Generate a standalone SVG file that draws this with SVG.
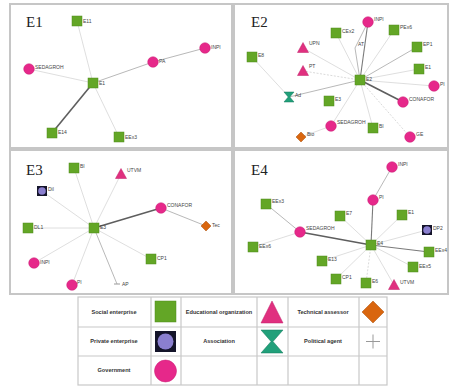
<svg xmlns="http://www.w3.org/2000/svg" xmlns:xlink="http://www.w3.org/1999/xlink" width="451" height="387" viewBox="0 0 451 387">
  <style>
    .panel { fill: #ffffff; stroke: #c6c6c6; stroke-width: 2; }
    .title { font-family: "Liberation Serif", "DejaVu Serif", serif; font-size: 15px; fill: #222; }
    .lbl { font-family: "Liberation Sans", Arial, sans-serif; font-size: 5px; fill: #444; }
    .se { fill: #63a626; stroke: #4f8a1c; stroke-width: 0.5; }
    .gov { fill: #e6288a; stroke: #c81c74; stroke-width: 0.5; }
    .edu { fill: #e0307f; stroke: #c01f68; stroke-width: 0.5; }
    .tec { fill: #d9660f; stroke: #a84e0a; stroke-width: 0.5; }
    .asn { fill: #21a07a; stroke: #157a5c; stroke-width: 0.5; }
    .pe-box { fill: #14142a; }
    .pe { fill: #8a7fcf; }
    .pol { stroke: #999; stroke-width: 1; fill: none; }
    .e-l { stroke: #d6d6d6; stroke-width: 0.8; fill: none; }
    .e-m { stroke: #b0b0b0; stroke-width: 0.9; fill: none; }
    .e-d { stroke: #7a7a7a; stroke-width: 1.1; fill: none; }
    .e-x { stroke: #5e5e5e; stroke-width: 1.6; fill: none; }
    .e-dash { stroke: #d0d0d0; stroke-width: 0.8; stroke-dasharray: 2 1.5; fill: none; }
    .grid { fill: #ffffff; stroke: #c8c8c8; stroke-width: 1.2; }
    .leg { font-family: "Liberation Sans", Arial, sans-serif; font-size: 5.6px; font-weight: bold; fill: #333; text-anchor: middle; }
  </style>
  <defs>
    <rect id="sq" x="-5" y="-5" width="10" height="10" class="se"/>
    <circle id="ci" r="5.3" class="gov"/>
    <polygon id="tri" points="0,-5.5 5.5,4.5 -5.5,4.5" class="edu"/>
    <polygon id="dia" points="0,-5 5,0 0,5 -5,0" class="tec"/>
    <polygon id="hg" points="-5,-5 5,-5 0.8,0 5,5 -5,5 -0.8,0" class="asn"/>
    <g id="pe">
      <rect x="-5" y="-5" width="10" height="10" class="pe-box"/>
      <circle r="3.8" class="pe"/>
    </g>
  </defs>

  <!-- frames -->
  <rect class="panel" x="10" y="4" width="222" height="144"/>
  <rect class="panel" x="234" y="4" width="214" height="144"/>
  <rect class="panel" x="10" y="150" width="222" height="144"/>
  <rect class="panel" x="234" y="150" width="214" height="144"/>

  <text class="title" x="26" y="27">E1</text>
  <text class="title" x="251" y="27">E2</text>
  <text class="title" x="26" y="175">E3</text>
  <text class="title" x="251" y="175">E4</text>

  <!-- connectors -->
  <g id="connectors">
    <!-- E1 -->
    <line class="e-l" x1="93" y1="83" x2="77" y2="21"/>
    <line class="e-l" x1="93" y1="83" x2="29" y2="69"/>
    <line class="e-m" x1="93" y1="83" x2="153" y2="62"/>
    <line class="e-m" x1="153" y1="62" x2="205" y2="48"/>
    <line class="e-x" x1="93" y1="83" x2="52" y2="133"/>
    <line class="e-l" x1="93" y1="83" x2="119" y2="137"/>
    <!-- E2 -->
    <line class="e-d" x1="360" y1="80" x2="368" y2="22"/>
    <polyline class="e-m" points="360,80 355,48 368,22"/>
    <line class="e-l" x1="360" y1="80" x2="336" y2="33"/>
    <line class="e-l" x1="360" y1="80" x2="394" y2="30"/>
    <line class="e-m" x1="360" y1="80" x2="417" y2="47"/>
    <line class="e-l" x1="360" y1="80" x2="303" y2="48"/>
    <line class="e-dash" x1="360" y1="80" x2="303" y2="71"/>
    <line class="e-l" x1="360" y1="80" x2="419" y2="69"/>
    <line class="e-l" x1="360" y1="80" x2="434" y2="86"/>
    <line class="e-x" x1="360" y1="80" x2="403" y2="102"/>
    <line class="e-m" x1="360" y1="80" x2="289" y2="97"/>
    <line class="e-l" x1="252" y1="57" x2="289" y2="97"/>
    <line class="e-l" x1="360" y1="80" x2="331" y2="126"/>
    <line class="e-l" x1="331" y1="126" x2="301" y2="137"/>
    <line class="e-l" x1="360" y1="80" x2="373" y2="128"/>
    <line class="e-dash" x1="360" y1="80" x2="410" y2="137"/>
    <!-- E3 -->
    <line class="e-l" x1="94" y1="228" x2="74" y2="168"/>
    <line class="e-l" x1="94" y1="228" x2="121" y2="174"/>
    <line class="e-l" x1="94" y1="228" x2="42" y2="191"/>
    <line class="e-x" x1="94" y1="228" x2="161" y2="208"/>
    <line class="e-m" x1="161" y1="208" x2="206" y2="226"/>
    <line class="e-l" x1="94" y1="228" x2="28" y2="228"/>
    <line class="e-l" x1="94" y1="228" x2="151" y2="259"/>
    <line class="e-l" x1="94" y1="228" x2="34" y2="263"/>
    <line class="e-l" x1="94" y1="228" x2="72" y2="285"/>
    <line class="e-m" x1="94" y1="228" x2="117" y2="284"/>
    <!-- E4 -->
    <line class="e-d" x1="371" y1="245" x2="373" y2="200"/>
    <line class="e-m" x1="373" y1="200" x2="392" y2="167"/>
    <line class="e-x" x1="371" y1="245" x2="300" y2="232"/>
    <line class="e-m" x1="300" y1="232" x2="266" y2="204"/>
    <line class="e-l" x1="300" y1="232" x2="253" y2="247"/>
    <line class="e-l" x1="371" y1="245" x2="340" y2="216"/>
    <line class="e-l" x1="371" y1="245" x2="402" y2="215"/>
    <line class="e-l" x1="371" y1="245" x2="427" y2="230"/>
    <line class="e-d" x1="371" y1="245" x2="429" y2="252"/>
    <line class="e-l" x1="371" y1="245" x2="322" y2="261"/>
    <line class="e-l" x1="371" y1="245" x2="413" y2="267"/>
    <line class="e-l" x1="371" y1="245" x2="336" y2="279"/>
    <line class="e-dash" x1="371" y1="245" x2="366" y2="283"/>
    <line class="e-l" x1="371" y1="245" x2="394" y2="285"/>
  </g>

  <!-- E1 nodes -->
  <g id="e1-E11"><use href="#sq" x="77" y="21"/><text class="lbl" x="83" y="23">E11</text></g>
  <g id="e1-INPI"><use href="#ci" x="205" y="48"/><text class="lbl" x="211" y="49">INPI</text></g>
  <g id="e1-PA"><use href="#ci" x="153" y="62"/><text class="lbl" x="159" y="63">PA</text></g>
  <g id="e1-SEDAGROH"><use href="#ci" x="29" y="69"/><text class="lbl" x="35" y="69">SEDAGROH</text></g>
  <g id="e1-E1"><use href="#sq" x="93" y="83"/><text class="lbl" x="99" y="85">E1</text></g>
  <g id="e1-E14"><use href="#sq" x="52" y="133"/><text class="lbl" x="58" y="134">E14</text></g>
  <g id="e1-EEx3"><use href="#sq" x="119" y="137"/><text class="lbl" x="125" y="139">EEx3</text></g>

  <!-- E2 nodes -->
  <g id="e2-INPI"><use href="#ci" x="368" y="22"/><text class="lbl" x="374" y="21">INPI</text></g>
  <g id="e2-AT"><text class="lbl" x="358" y="46">AT</text></g>
  <g id="e2-CEx2"><use href="#sq" x="336" y="33"/><text class="lbl" x="342" y="33">CEx2</text></g>
  <g id="e2-PEx6"><use href="#sq" x="394" y="30"/><text class="lbl" x="400" y="29">PEx6</text></g>
  <g id="e2-EP1"><use href="#sq" x="417" y="47"/><text class="lbl" x="423" y="46">EP1</text></g>
  <g id="e2-UPN"><use href="#tri" x="303" y="48"/><text class="lbl" x="309" y="45">UPN</text></g>
  <g id="e2-E8"><use href="#sq" x="252" y="57"/><text class="lbl" x="258" y="57">E8</text></g>
  <g id="e2-E1"><use href="#sq" x="419" y="69"/><text class="lbl" x="425" y="69">E1</text></g>
  <g id="e2-PT"><use href="#tri" x="303" y="71"/><text class="lbl" x="309" y="68">PT</text></g>
  <g id="e2-E2"><use href="#sq" x="360" y="80"/><text class="lbl" x="366" y="81">E2</text></g>
  <g id="e2-PI"><use href="#ci" x="434" y="86"/><text class="lbl" x="440" y="86">PI</text></g>
  <g id="e2-Ad"><use href="#hg" x="289" y="97"/><text class="lbl" x="295" y="97">Ad</text></g>
  <g id="e2-E3"><use href="#sq" x="329" y="101"/><text class="lbl" x="335" y="101">E3</text></g>
  <g id="e2-CONAFOR"><use href="#ci" x="403" y="102"/><text class="lbl" x="409" y="101">CONAFOR</text></g>
  <g id="e2-SEDAGROH"><use href="#ci" x="331" y="126"/><text class="lbl" x="337" y="124">SEDAGROH</text></g>
  <g id="e2-BI"><use href="#sq" x="373" y="128"/><text class="lbl" x="379" y="128">BI</text></g>
  <g id="e2-Bio"><use href="#dia" x="301" y="137"/><text class="lbl" x="307" y="136">Bio</text></g>
  <g id="e2-GE"><use href="#ci" x="410" y="137"/><text class="lbl" x="416" y="136">GE</text></g>

  <!-- E3 nodes -->
  <g id="e3-BI"><use href="#sq" x="74" y="168"/><text class="lbl" x="80" y="168">BI</text></g>
  <g id="e3-UTVM"><use href="#tri" x="121" y="174"/><text class="lbl" x="127" y="172">UTVM</text></g>
  <g id="e3-Dil"><use href="#pe" x="42" y="191"/><text class="lbl" x="48" y="191">Dil</text></g>
  <g id="e3-CONAFOR"><use href="#ci" x="161" y="208"/><text class="lbl" x="167" y="207">CONAFOR</text></g>
  <g id="e3-DL1"><use href="#sq" x="28" y="228"/><text class="lbl" x="34" y="229">DL1</text></g>
  <g id="e3-E3"><use href="#sq" x="94" y="228"/><text class="lbl" x="100" y="229">E3</text></g>
  <g id="e3-Tec"><use href="#dia" x="206" y="226"/><text class="lbl" x="212" y="227">Tec</text></g>
  <g id="e3-CP1"><use href="#sq" x="151" y="259"/><text class="lbl" x="157" y="260">CP1</text></g>
  <g id="e3-INPI"><use href="#ci" x="34" y="263"/><text class="lbl" x="40" y="264">INPI</text></g>
  <g id="e3-PI"><use href="#ci" x="72" y="285"/><text class="lbl" x="77" y="284">PI</text></g>
  <g id="e3-AP"><line class="pol" x1="114" y1="284" x2="120" y2="284" stroke-width="0.6"/><text class="lbl" x="122" y="286">AP</text></g>

  <!-- E4 nodes -->
  <g id="e4-INPI"><use href="#ci" x="392" y="167"/><text class="lbl" x="398" y="166">INPI</text></g>
  <g id="e4-PI"><use href="#ci" x="373" y="200"/><text class="lbl" x="379" y="199">PI</text></g>
  <g id="e4-EEx3"><use href="#sq" x="266" y="204"/><text class="lbl" x="272" y="203">EEx3</text></g>
  <g id="e4-E7"><use href="#sq" x="340" y="216"/><text class="lbl" x="346" y="215">E7</text></g>
  <g id="e4-E1"><use href="#sq" x="402" y="215"/><text class="lbl" x="408" y="214">E1</text></g>
  <g id="e4-DP2"><use href="#pe" x="427" y="230"/><text class="lbl" x="433" y="230">DP2</text></g>
  <g id="e4-SEDAGROH"><use href="#ci" x="300" y="232"/><text class="lbl" x="306" y="230">SEDAGROH</text></g>
  <g id="e4-E4"><use href="#sq" x="371" y="245"/><text class="lbl" x="377" y="245">E4</text></g>
  <g id="e4-EEx6"><use href="#sq" x="253" y="247"/><text class="lbl" x="259" y="248">EEx6</text></g>
  <g id="e4-EEx4"><use href="#sq" x="429" y="252"/><text class="lbl" x="435" y="252">EEx4</text></g>
  <g id="e4-E13"><use href="#sq" x="322" y="261"/><text class="lbl" x="328" y="261">E13</text></g>
  <g id="e4-EEx5"><use href="#sq" x="413" y="267"/><text class="lbl" x="419" y="268">EEx5</text></g>
  <g id="e4-CP1"><use href="#sq" x="336" y="279"/><text class="lbl" x="342" y="279">CP1</text></g>
  <g id="e4-E6"><use href="#sq" x="366" y="283"/><text class="lbl" x="372" y="283">E6</text></g>
  <g id="e4-UTVM"><use href="#tri" x="394" y="285"/><text class="lbl" x="400" y="284">UTVM</text></g>

  <!-- key table -->
  <g id="legend">
    <rect class="grid" x="78" y="297" width="309" height="88"/>
    <line class="grid" x1="78" y1="327" x2="387" y2="327"/>
    <line class="grid" x1="78" y1="356" x2="387" y2="356"/>
    <line class="grid" x1="151" y1="297" x2="151" y2="385"/>
    <line class="grid" x1="181" y1="297" x2="181" y2="385"/>
    <line class="grid" x1="257" y1="297" x2="257" y2="385"/>
    <line class="grid" x1="288" y1="297" x2="288" y2="385"/>
    <line class="grid" x1="359" y1="297" x2="359" y2="385"/>

    <text class="leg" x="114" y="314">Social enterprise</text>
    <text class="leg" x="219" y="314">Educational organization</text>
    <text class="leg" x="323" y="314">Technical assessor</text>
    <text class="leg" x="114" y="343">Private enterprise</text>
    <text class="leg" x="219" y="343">Association</text>
    <text class="leg" x="323" y="343">Political agent</text>
    <text class="leg" x="114" y="372">Government</text>

    <rect x="155" y="301" width="21" height="21" class="se"/>
    <polygon points="272,301 283,323 261,323" class="edu"/>
    <polygon points="373,301 384,312 373,323 362,312" class="tec"/>
    <rect x="155" y="331" width="21" height="21" class="pe-box"/>
    <circle cx="165.5" cy="341.5" r="8" class="pe"/>
    <polygon points="261,330 283,330 273,341.5 283,353 261,353 271,341.5" class="asn"/>
    <line class="pol" x1="366" y1="341.5" x2="380" y2="341.5"/>
    <line class="pol" x1="373" y1="334.5" x2="373" y2="348.5"/>
    <circle cx="165.5" cy="371" r="11" class="gov"/>
  </g>
</svg>
